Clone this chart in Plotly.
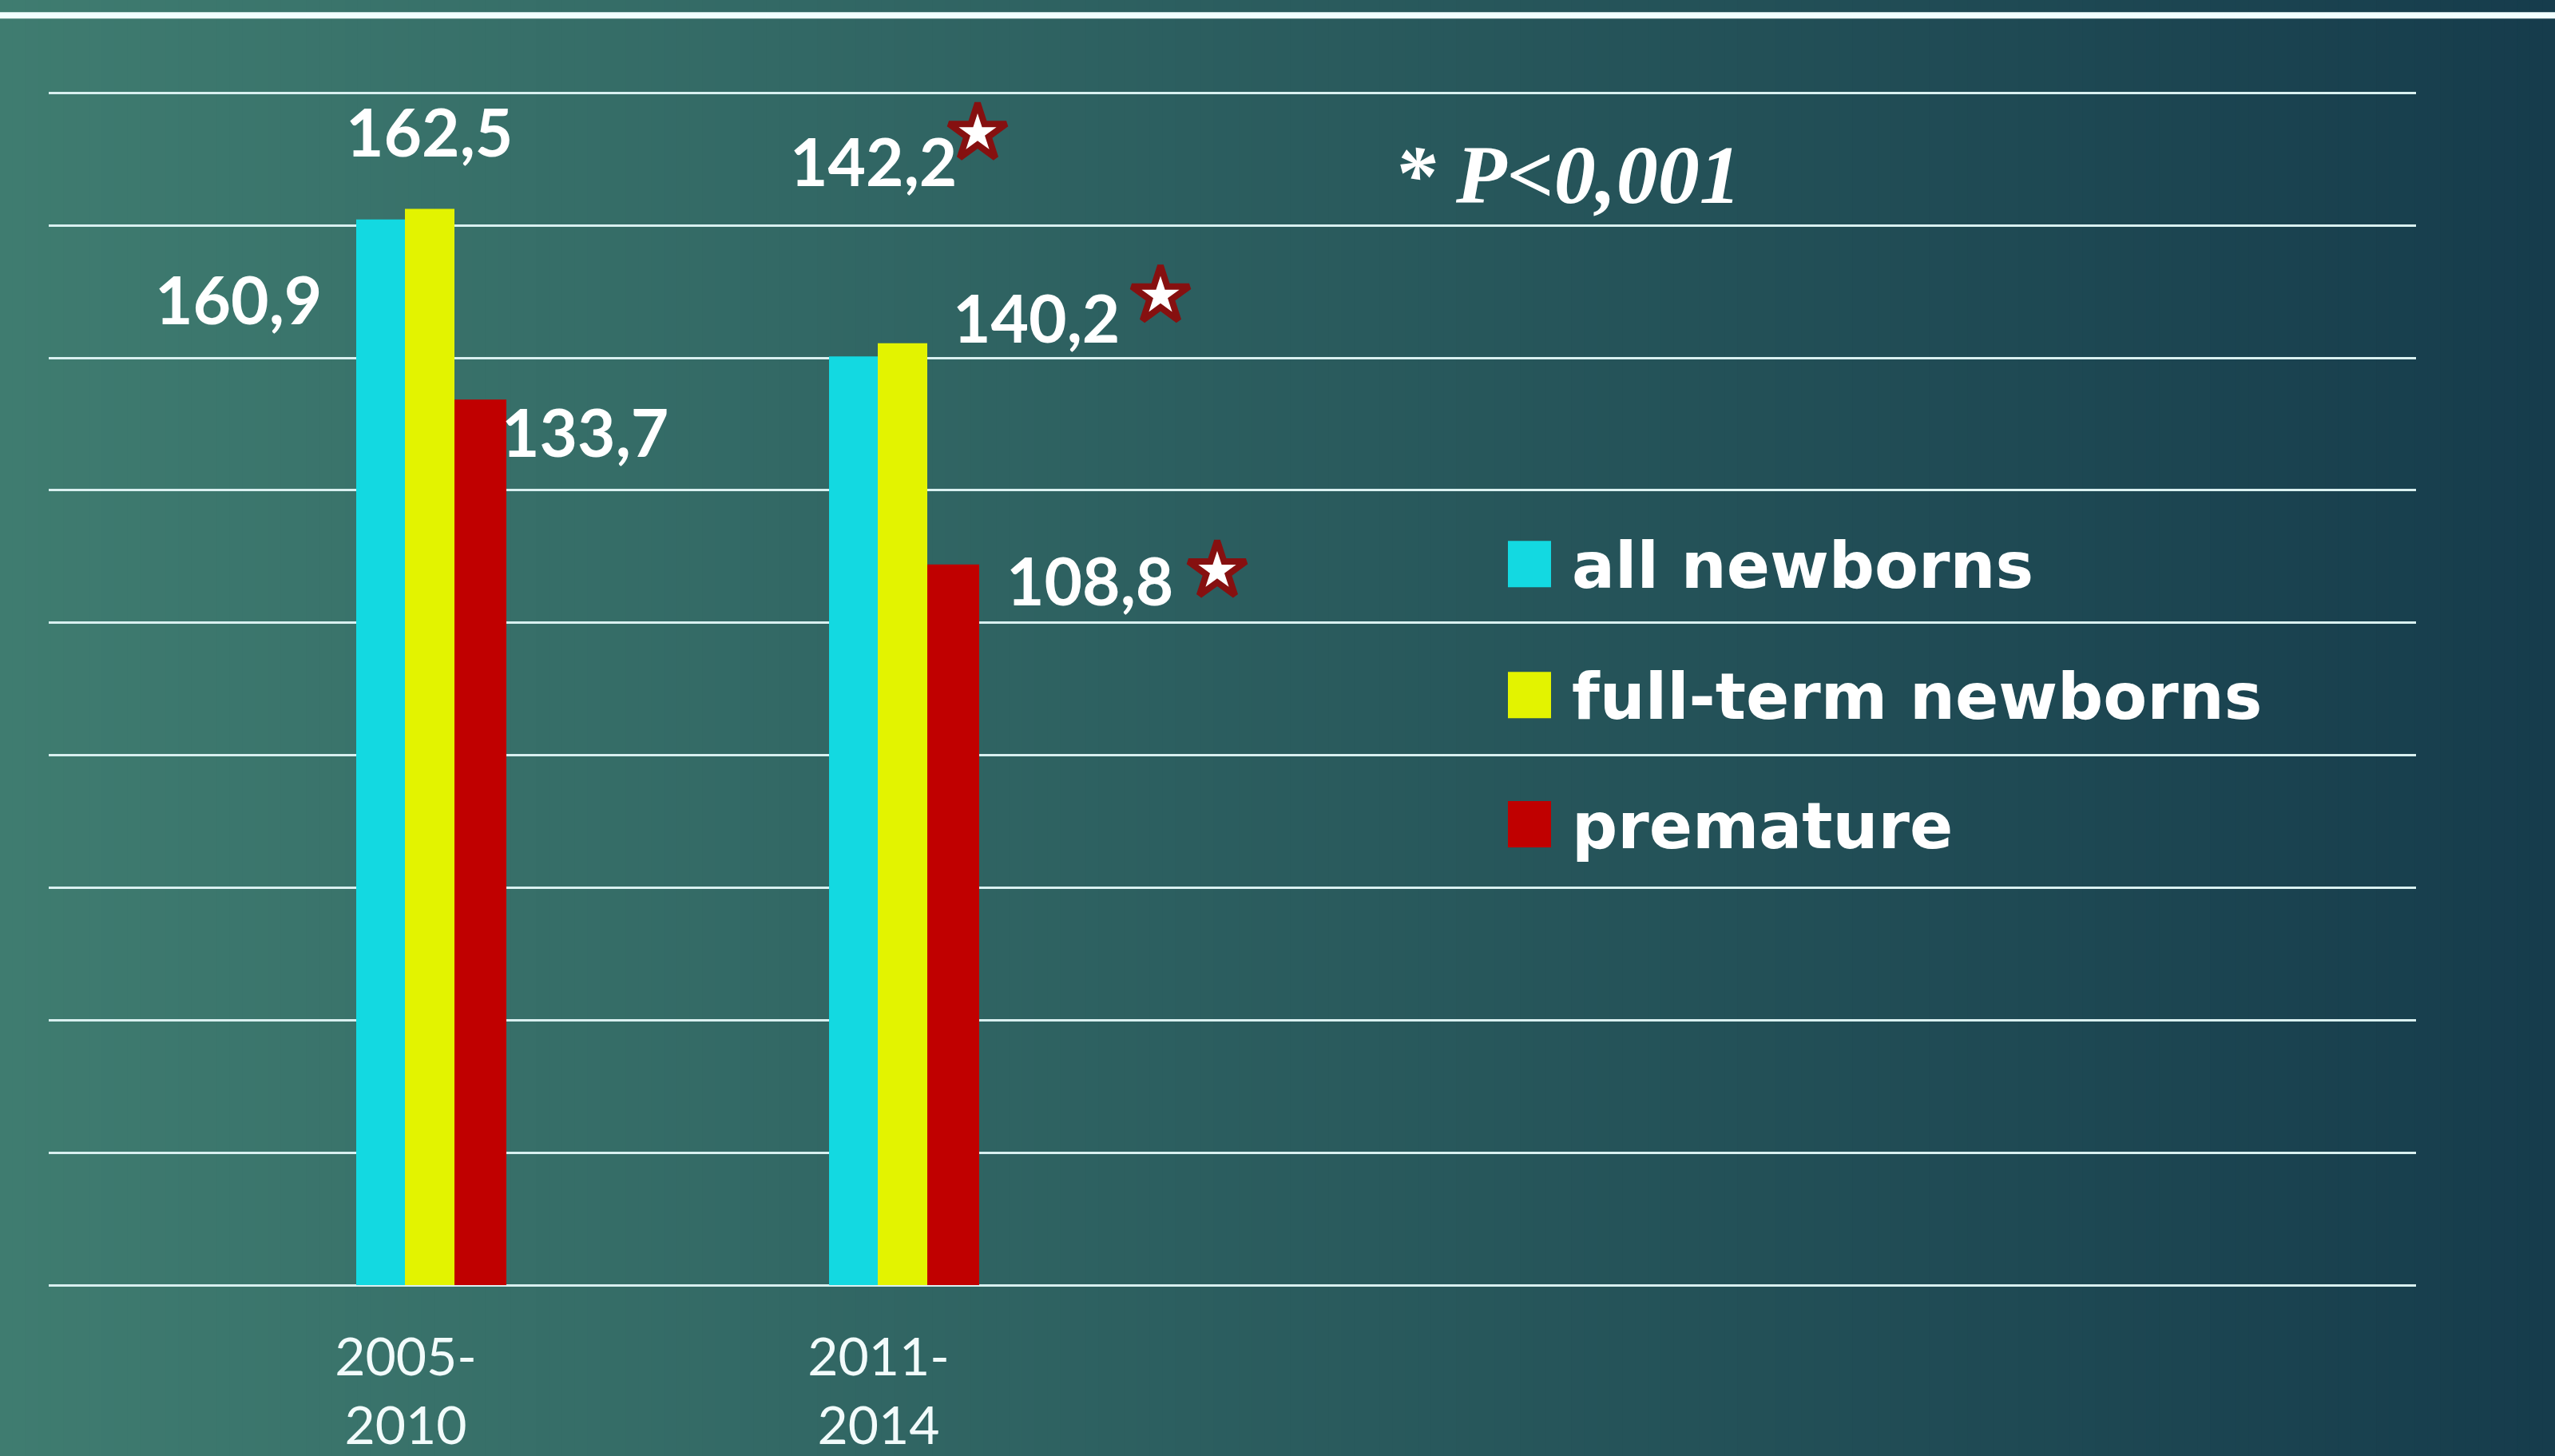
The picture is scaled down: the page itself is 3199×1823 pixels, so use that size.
import plotly.graph_objects as go

# ---------------- data ----------------
categories = ["2005-2010", "2011-2014"]
series_names = ["all newborns", "full-term newborns", "premature"]
all_newborns = [160.9, 140.2]
full_term_newborns = [162.5, 142.2]
premature = [133.7, 108.8]
significant = [False, True]          # star marks (P<0,001) per category
p_note = "* P&lt;0,001"
y_ticks = [0, 20, 40, 60, 80, 100, 120, 140, 160, 180]

series_values = [all_newborns, full_term_newborns, premature]
colors = ["#13D9E1", "#E3F300", "#C00000"]

# ---------------- geometry (pixels) ----------------
W, H = 3199, 1823
BASE_PX = 1609           # pixel row of the zero line
TOP_GRID_PX = 116        # pixel row of the 180 gridline
Y_RANGE = [0, 181]
UNIT_Y = (BASE_PX - TOP_GRID_PX) / 180.0
ML, MR, MB = 61, W - 3025, H - BASE_PX
PH = UNIT_Y * (Y_RANGE[1] - Y_RANGE[0])
MT = H - MB - PH
PW = W - ML - MR
CAT0_PX = 508            # pixel position of first category centre
UNIT_X = 592             # pixels per category
X_RANGE = [(ML - CAT0_PX) / UNIT_X, (ML + PW - CAT0_PX) / UNIT_X]

bar_offsets_px = [-62, -1, 61]
bar_widths_px = [61, 62, 65]

# data label offsets (px) relative to (category centre, bar top)
label_shift = [
    [(-210, -99), (197, 49)],
    [(29, 97), (-7, 229)],
    [(224, -40), (264, -19)],
]
star_shift = [
    [None, (353, 76)],
    [None, (124, 263)],
    [None, (424, -8)],
]


def fmt(v):
    return f"{v:.1f}".replace(".", ",")


def hexrgb(h):
    h = h.lstrip("#")
    return tuple(int(h[i:i + 2], 16) for i in (0, 2, 4))


def px_to_paper_x(px):
    return (px - ML) / PW


def px_to_paper_y(py):
    return (BASE_PX - py) / PH


fig = go.Figure()

xs = list(range(len(categories)))
for i, (name, vals) in enumerate(zip(series_names, series_values)):
    fig.add_trace(go.Bar(
        x=xs, y=vals, name=name,
        marker=dict(color=colors[i], line=dict(width=0)),
        offset=bar_offsets_px[i] / UNIT_X,
        width=bar_widths_px[i] / UNIT_X,
        showlegend=False, hoverinfo="skip",
    ))

# stars
star_x, star_y = [], []
for i, vals in enumerate(series_values):
    for j, v in enumerate(vals):
        if significant[j] and star_shift[i][j] is not None:
            dx, dy = star_shift[i][j]
            star_x.append(xs[j] + dx / UNIT_X)
            star_y.append(v + dy / UNIT_Y)
fig.add_trace(go.Scatter(
    x=star_x, y=star_y, mode="markers", showlegend=False, hoverinfo="skip",
    marker=dict(symbol="star", size=54, color="white",
                line=dict(color="#861010", width=8)),
    cliponaxis=False,
))

annotations = []
for i, vals in enumerate(series_values):
    for j, v in enumerate(vals):
        dx, dy = label_shift[i][j]
        annotations.append(dict(
            x=xs[j], y=v, xref="x", yref="y", text=fmt(v), showarrow=False,
            xshift=dx, yshift=dy, xanchor="center", yanchor="middle",
            font=dict(family="Lato", size=82, color="white", weight="bold"),
        ))

# P note
annotations.append(dict(
    x=px_to_paper_x(1962), y=px_to_paper_y(218), xref="paper", yref="paper",
    text=p_note, showarrow=False, xanchor="center", yanchor="middle",
    font=dict(family="Liberation Serif", size=104, color="white",
              style="italic", weight="bold"),
))

shapes = []
# background gradient
N = 200
c0 = hexrgb("#3F7C70")
c1 = hexrgb("#163C4C")
step = W / N
for k in range(N):
    t = k / (N - 1)
    c = tuple(round(c0[m] + (c1[m] - c0[m]) * t) for m in range(3))
    x0p = k * step
    x1p = (k + 1) * step + 1
    shapes.append(dict(
        type="rect", xref="paper", yref="paper", layer="below",
        x0=px_to_paper_x(x0p), x1=px_to_paper_x(x1p), y0=-1, y1=2,
        fillcolor="rgb(%d,%d,%d)" % c, line=dict(width=0),
    ))
# top white rule
shapes.append(dict(
    type="line", xref="paper", yref="paper", layer="above",
    x0=px_to_paper_x(0), x1=px_to_paper_x(W),
    y0=px_to_paper_y(19), y1=px_to_paper_y(19),
    line=dict(color="#F2FFFF", width=8),
))

# custom legend
legend_rows_px = [706, 870, 1032]
for i, name in enumerate(series_names):
    yc = legend_rows_px[i]
    shapes.append(dict(
        type="rect", xref="paper", yref="paper", layer="above",
        x0=px_to_paper_x(1888), x1=px_to_paper_x(1942),
        y0=px_to_paper_y(yc + 29), y1=px_to_paper_y(yc - 29),
        fillcolor=colors[i], line=dict(width=0),
    ))
    annotations.append(dict(
        x=px_to_paper_x(1966), y=px_to_paper_y(yc + 2), xref="paper", yref="paper",
        text=name, showarrow=False, xanchor="left", yanchor="middle",
        font=dict(family="DejaVu Sans", size=80, color="white", weight="bold"),
    ))

fig.update_layout(
    width=W, height=H,
    margin=dict(l=ML, r=MR, t=MT, b=MB, pad=0, autoexpand=False),
    paper_bgcolor="#2B5C5E",
    plot_bgcolor="rgba(0,0,0,0)",
    barmode="overlay",
    showlegend=False,
    shapes=shapes,
    annotations=annotations,
    xaxis=dict(
        range=X_RANGE, tickvals=xs,
        ticktext=[c.replace("-", "-<br>") for c in categories],
        showgrid=False, zeroline=False, showline=False, ticks="",
        tickfont=dict(family="Lato", size=66, color="#F2FBFB"),
        ticklabelstandoff=46, automargin=False,
    ),
    yaxis=dict(
        range=Y_RANGE, tickvals=y_ticks, showticklabels=False,
        showgrid=True, gridcolor="#D9F0F0", gridwidth=3,
        zeroline=True, zerolinecolor="#D9F0F0", zerolinewidth=3,
        showline=False, ticks="", automargin=False,
    ),
)

fig.write_html(
    "out.html",
    config={"displayModeBar": False},
    post_script="document.body.style.margin='0';document.body.style.overflow='hidden';",
)
